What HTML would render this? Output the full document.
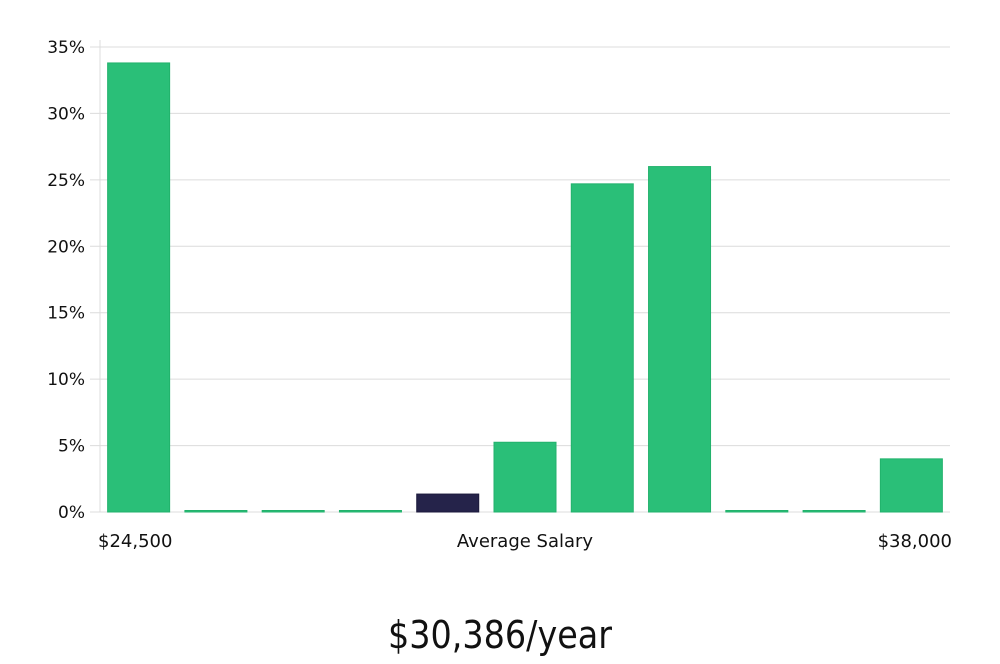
<!DOCTYPE html>
<html><head><meta charset="utf-8"><style>
body{margin:0;background:#fff;width:1000px;height:660px;overflow:hidden;font-family:"DejaVu Sans","Liberation Sans",sans-serif}
svg text{font-family:"DejaVu Sans","Liberation Sans",sans-serif}
</style></head><body>
<svg id="chart" width="1000" height="660" xmlns="http://www.w3.org/2000/svg"></svg>
<script>
const categories=["b1","b2","b3","b4","b5","b6","b7","b8","b9","b10","b11"];
const values=[33.8,0,0,0,1.35,5.25,24.7,26.0,0,0,4.0];
const highlight=[false,false,false,false,true,false,false,false,false,false,false];
const yTicks=[0,5,10,15,20,25,30,35];
const yTickLabels=["0%","5%","10%","15%","20%","25%","30%","35%"];
const xLabels=["$24,500","Average Salary","$38,000"];
const salaryText="$30,386/year";
const NS="http://www.w3.org/2000/svg";
const svg=document.getElementById('chart');
const x0=100,x1=950,yBase=512,yTop=47,yMax=35;
const y=v=>yBase-(v/yMax)*(yBase-yTop);
const slot=(x1-x0)/categories.length;
const xc=i=>x0+slot*(i+0.5);
function mk(t,a){const e=document.createElementNS(NS,t);for(const k in a)e.setAttribute(k,a[k]);svg.appendChild(e);return e;}
yTicks.forEach((t,i)=>{
  const g=mk('line',{x1:90,x2:x1,y1:y(t),y2:y(t),stroke:'#dcdcdc','stroke-width':1});
  
  
  const l=mk('text',{x:85,y:y(t)+6,'text-anchor':'end','font-size':17,fill:'#111'});
  l.textContent=yTickLabels[i];
  
  
});
const ax=mk('line',{x1:x0,x2:x0,y1:40,y2:yBase,stroke:'#dcdcdc','stroke-width':1});


values.forEach((v,i)=>{
  const w=62;const h=Math.max(yBase-y(v),1.5);
  const r=mk('rect',{x:xc(i)-w/2,y:yBase-h,width:w,height:h,fill:highlight[i]?'#25234a':'#2abf78',stroke:highlight[i]?'#1c1a3c':'#22b26c','stroke-width':1});
  
  
});
const xl=[[98,'start'],[525,'middle'],[952,'end']];
xLabels.forEach((s,i)=>{
  const t=mk('text',{x:xl[i][0],y:547,'text-anchor':xl[i][1],'font-size':18,fill:'#111'});
  t.textContent=s;
  
  
});
const st=mk('text',{x:500,y:648,'text-anchor':'middle','font-size':38,fill:'#111',transform:'translate(500,0) scale(0.88,1) translate(-500,0)'});
st.textContent=salaryText;


</script>
</body></html>
